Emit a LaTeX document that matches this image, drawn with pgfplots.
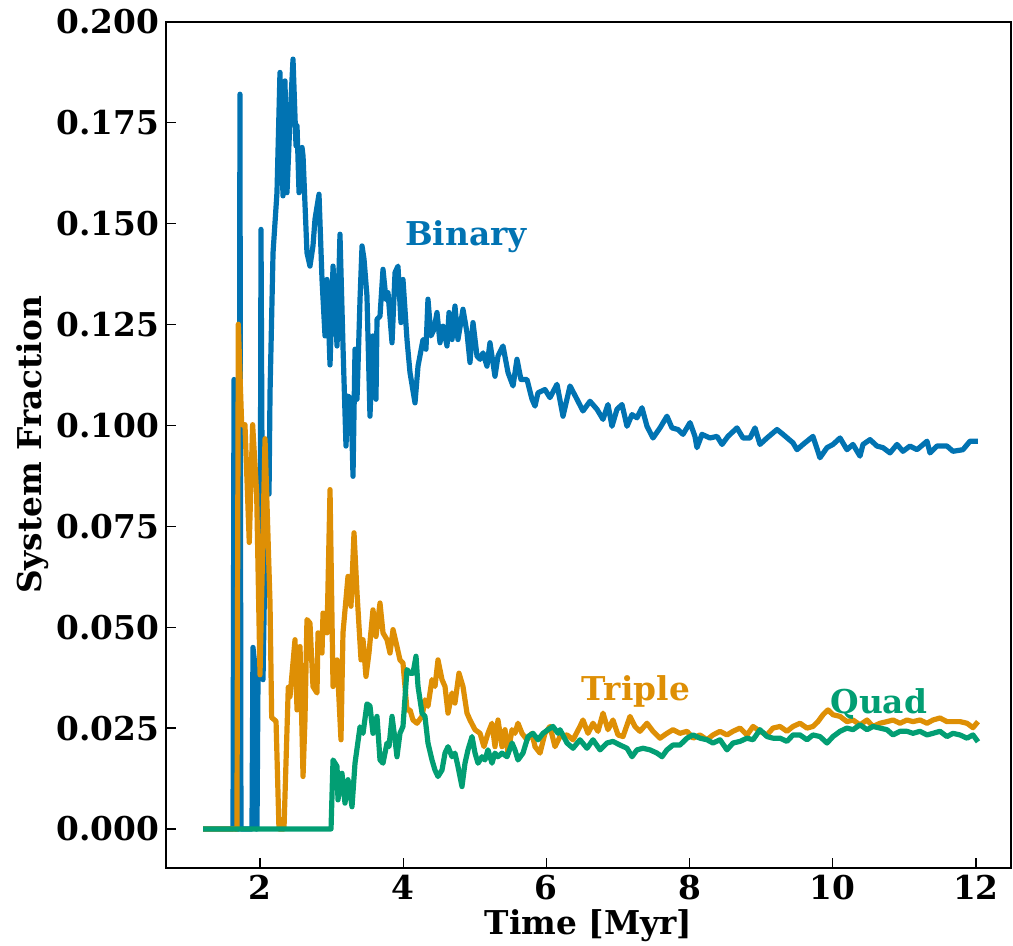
\documentclass[border=0pt]{standalone}
\usepackage{fontspec}
\setmainfont{DejaVu Serif}
\usepackage{pgfplots}
\pgfplotsset{compat=1.18}
\definecolor{cbblue}{HTML}{0173B2}
\definecolor{cborange}{HTML}{DE8F05}
\definecolor{cbgreen}{HTML}{029E73}
\newcommand\bigfont{\fontsize{16.4}{19.7}\selectfont\bfseries}
\begin{document}
\begin{tikzpicture}
\begin{axis}[
 scale only axis, width=422.5pt, height=423pt,
 xmin=0.687, xmax=12.489, ymin=-0.00968, ymax=0.2,
 xtick={2,4,6,8,10,12},
 ytick={0,0.025,0.05,0.075,0.1,0.125,0.15,0.175,0.2},
 tick align=inside, xtick pos=bottom, ytick pos=left,
 major tick length=5pt,
 tick style={black, line width=0.6pt},
 axis line style={line width=0.6pt},
 ticklabel style={font=\bigfont},
 /pgf/number format/assume math mode=true,
 yticklabel style={/pgf/number format/.cd, fixed, fixed zerofill, precision=3},
 xlabel={Time [Myr]}, ylabel={System Fraction},
 label style={font=\bigfont},
 every axis y label/.append style={yshift=-3pt},
 every axis x label/.append style={yshift=2pt},
 every axis plot/.append style={line width=2.6pt, line join=round, mark=none},
 clip=true,
]
% Binary
\addplot[cbblue] coordinates {
(1.204,0) (1.623,0) (1.637,0.1114) (1.651,0) (1.706,0) (1.720,0.1821) (1.734,0)
(1.888,0) (1.902,0.045) (1.930,0.0403) (1.944,0) (1.958,0) (1.972,0.037) (2.000,0.040)
(2.014,0.1486) (2.042,0.037) (2.084,0.083) (2.126,0.083) (2.140,0.1081) (2.182,0.1428)
(2.237,0.1577) (2.279,0.1875) (2.321,0.1569) (2.349,0.1854) (2.377,0.1577) (2.419,0.1759)
(2.461,0.1908) (2.503,0.1693) (2.517,0.1743) (2.545,0.1577) (2.587,0.1689) (2.601,0.1668)
(2.656,0.1428) (2.698,0.1395) (2.740,0.1445) (2.768,0.1511) (2.824,0.1573) (2.866,0.1362)
(2.908,0.1222) (2.936,0.1362) (2.978,0.115) (3.020,0.1395) (3.076,0.1197) (3.117,0.1474)
(3.159,0.1197) (3.201,0.0949) (3.229,0.1073) (3.271,0.1065) (3.299,0.0874) (3.327,0.1189)
(3.355,0.1065) (3.397,0.1313) (3.425,0.1445) (3.453,0.1412) (3.494,0.1321) (3.536,0.1023)
(3.578,0.1222) (3.620,0.1065) (3.634,0.1263) (3.676,0.1271) (3.718,0.1387) (3.760,0.1313)
(3.788,0.1329) (3.844,0.1205) (3.886,0.1379) (3.927,0.1395) (3.969,0.1255) (3.997,0.1362)
(4.053,0.1213) (4.095,0.1131) (4.165,0.1056) (4.207,0.1147) (4.277,0.1213) (4.318,0.1189)
(4.346,0.1313) (4.388,0.1222) (4.430,0.1238) (4.472,0.1280) (4.514,0.1205) (4.556,0.1246)
(4.612,0.1197) (4.640,0.1280) (4.682,0.1213) (4.723,0.1296) (4.765,0.1213) (4.835,0.1288)
(4.891,0.1230) (4.933,0.1156) (4.975,0.1255) (5.031,0.1172) (5.073,0.1164) (5.115,0.1180)
(5.170,0.1147) (5.212,0.1205) (5.282,0.1122) (5.324,0.1172) (5.394,0.1197) (5.464,0.1131)
(5.534,0.1098) (5.589,0.1164) (5.645,0.1114) (5.729,0.1114) (5.799,0.1065) (5.841,0.1048)
(5.883,0.1081) (5.980,0.1089) (6.050,0.1069) (6.148,0.1102) (6.232,0.1023) (6.330,0.1098)
(6.427,0.1065) (6.511,0.1036) (6.609,0.1060) (6.707,0.1040) (6.791,0.1015) (6.860,0.1052)
(6.916,0.0998) (6.986,0.1040) (7.056,0.1052) (7.126,0.0998) (7.196,0.1027) (7.265,0.1019)
(7.335,0.1044) (7.405,0.0998) (7.489,0.0969) (7.587,0.0994) (7.684,0.1023) (7.754,0.0994)
(7.838,0.0990) (7.908,0.0978) (8.006,0.1007) (8.075,0.0973) (8.103,0.0945) (8.173,0.0978)
(8.285,0.0969) (8.383,0.0973) (8.453,0.0953) (8.536,0.0973) (8.662,0.0994) (8.746,0.0969)
(8.844,0.0969) (8.914,0.0994) (8.983,0.0953) (9.081,0.0969) (9.221,0.0990) (9.305,0.0978)
(9.444,0.0957) (9.500,0.0940) (9.584,0.0953) (9.723,0.0973) (9.821,0.0920) (9.919,0.0945)
(10.003,0.0953) (10.101,0.0969) (10.198,0.0940) (10.282,0.0953) (10.380,0.0924) (10.422,0.0953)
(10.520,0.0965) (10.617,0.0949) (10.701,0.0945) (10.799,0.0932) (10.897,0.0953) (10.980,0.0936)
(11.078,0.0949) (11.176,0.0940) (11.316,0.0961) (11.358,0.0932) (11.455,0.0949) (11.595,0.0949)
(11.679,0.0936) (11.818,0.0940) (11.916,0.0961) (12.028,0.0961)
};
% Triple
\addplot[cborange] coordinates {
(1.204,0) (1.678,0) (1.697,0.1251) (1.744,0.1002) (1.790,0.1002) (1.850,0.0710) (1.897,0.1002)
(1.953,0.0834) (2.000,0.0382) (2.070,0.0967) (2.140,0.0559) (2.163,0.0276) (2.224,0.0267)
(2.265,0) (2.335,0) (2.395,0.0351) (2.419,0.0328) (2.489,0.0469) (2.517,0.0295) (2.559,0.0452)
(2.601,0.0130) (2.628,0.0270) (2.656,0.0519) (2.698,0.0510) (2.740,0.0353) (2.796,0.0337)
(2.810,0.0486) (2.866,0.0436) (2.880,0.0535) (2.936,0.0486) (2.978,0.0841) (3.020,0.0353)
(3.076,0.0419) (3.131,0.0221) (3.159,0.0486) (3.229,0.0626) (3.271,0.0552) (3.313,0.0734)
(3.355,0.0585) (3.411,0.0419) (3.439,0.0469) (3.480,0.0378) (3.522,0.0436) (3.578,0.0543)
(3.620,0.0477) (3.676,0.0560) (3.718,0.0486) (3.774,0.0469) (3.816,0.0436) (3.858,0.0494)
(3.913,0.0452) (3.955,0.0419) (3.997,0.0411) (4.053,0.0295) (4.095,0.0295) (4.137,0.0270)
(4.193,0.0262) (4.263,0.0279) (4.304,0.0320) (4.346,0.0304) (4.402,0.0370) (4.444,0.0353)
(4.486,0.0419) (4.542,0.0370) (4.584,0.0353) (4.626,0.0287) (4.682,0.0337) (4.723,0.0312)
(4.779,0.0386) (4.835,0.0353) (4.891,0.0287) (4.933,0.0270) (5.003,0.0246) (5.073,0.0237)
(5.128,0.0204) (5.184,0.0237) (5.240,0.0262) (5.282,0.0204) (5.324,0.0270) (5.380,0.0204)
(5.422,0.0246) (5.464,0.0188) (5.520,0.0246) (5.561,0.0237) (5.603,0.0262) (5.659,0.0237)
(5.729,0.0221) (5.799,0.0237) (5.841,0.0204) (5.911,0.0188) (5.980,0.0237) (6.050,0.0254)
(6.120,0.0204) (6.190,0.0229) (6.288,0.0233) (6.372,0.0221) (6.469,0.0254) (6.511,0.0270)
(6.581,0.0237) (6.651,0.0262) (6.721,0.0242) (6.791,0.0287) (6.860,0.0246) (6.930,0.0270)
(7.000,0.0233) (7.070,0.0229) (7.168,0.0279) (7.237,0.0254) (7.307,0.0242) (7.405,0.0262)
(7.489,0.0242) (7.587,0.0225) (7.684,0.0237) (7.768,0.0246) (7.866,0.0237) (7.964,0.0242)
(8.048,0.0225) (8.145,0.0233) (8.243,0.0221) (8.327,0.0233) (8.425,0.0242) (8.522,0.0233)
(8.606,0.0242) (8.704,0.0250) (8.802,0.0233) (8.886,0.0254) (8.983,0.0242) (9.081,0.0233)
(9.165,0.0250) (9.263,0.0254) (9.360,0.0242) (9.444,0.0254) (9.542,0.0262) (9.640,0.0250)
(9.723,0.0254) (9.793,0.0266) (9.863,0.0283) (9.933,0.0295) (10.003,0.0283) (10.101,0.0279)
(10.198,0.0266) (10.282,0.0270) (10.380,0.0258) (10.478,0.0270) (10.562,0.0254) (10.659,0.0262)
(10.757,0.0266) (10.841,0.0270) (10.939,0.0262) (11.036,0.0270) (11.120,0.0266) (11.218,0.0270)
(11.316,0.0262) (11.399,0.0270) (11.497,0.0275) (11.595,0.0266) (11.679,0.0266) (11.777,0.0266)
(11.874,0.0262) (11.958,0.0251) (12.028,0.0266)
};
% Quad
\addplot[cbgreen] coordinates {
(1.204,0) (2.992,0) (3.020,0.0171) (3.076,0.0155) (3.089,0.0072) (3.145,0.0138) (3.187,0.0064)
(3.229,0.0122) (3.285,0.0055) (3.327,0.0163) (3.397,0.0253) (3.439,0.0237) (3.494,0.0310)
(3.536,0.0305) (3.578,0.0237) (3.634,0.0279) (3.676,0.0171) (3.718,0.0163) (3.774,0.0213)
(3.802,0.0204) (3.844,0.0279) (3.886,0.0221) (3.913,0.0179) (3.955,0.0237) (3.997,0.0254)
(4.053,0.0395) (4.095,0.0386) (4.137,0.0386) (4.179,0.0428) (4.207,0.0353) (4.263,0.0287)
(4.304,0.0279) (4.346,0.0213) (4.402,0.0171) (4.444,0.0146) (4.486,0.0130) (4.542,0.0146)
(4.584,0.0188) (4.626,0.0204) (4.682,0.0179) (4.723,0.0188) (4.765,0.0155) (4.821,0.0105)
(4.863,0.0163) (4.905,0.0196) (4.961,0.0229) (5.003,0.0188) (5.045,0.0163) (5.101,0.0179)
(5.142,0.0171) (5.184,0.0196) (5.240,0.0163) (5.282,0.0188) (5.324,0.0179) (5.380,0.0188)
(5.450,0.0179) (5.520,0.0213) (5.561,0.0196) (5.603,0.0171) (5.673,0.0188) (5.743,0.0229)
(5.813,0.0237) (5.883,0.0221) (5.953,0.0237) (6.022,0.0246) (6.092,0.0254) (6.162,0.0237)
(6.190,0.0246) (6.288,0.0213) (6.372,0.0200) (6.469,0.0221) (6.567,0.0200) (6.651,0.0221)
(6.749,0.0196) (6.846,0.0213) (6.930,0.0217) (7.028,0.0208) (7.126,0.0200) (7.196,0.0179)
(7.265,0.0196) (7.349,0.0200) (7.447,0.0196) (7.545,0.0188) (7.615,0.0179) (7.684,0.0196)
(7.768,0.0208) (7.866,0.0208) (7.964,0.0225) (8.048,0.0233) (8.145,0.0225) (8.243,0.0221)
(8.327,0.0213) (8.425,0.0221) (8.522,0.0196) (8.606,0.0213) (8.704,0.0217) (8.802,0.0225)
(8.886,0.0221) (8.983,0.0246) (9.081,0.0229) (9.165,0.0225) (9.263,0.0225) (9.360,0.0217)
(9.444,0.0233) (9.542,0.0233) (9.640,0.0221) (9.723,0.0233) (9.821,0.0229) (9.919,0.0213)
(10.003,0.0229) (10.101,0.0242) (10.198,0.0250) (10.282,0.0246) (10.380,0.0258) (10.478,0.0246)
(10.562,0.0254) (10.659,0.0250) (10.757,0.0246) (10.841,0.0233) (10.939,0.0242) (11.036,0.0242)
(11.120,0.0237) (11.218,0.0242) (11.316,0.0233) (11.399,0.0237) (11.497,0.0242) (11.595,0.0229)
(11.679,0.0237) (11.777,0.0233) (11.874,0.0225) (11.958,0.0233) (12.028,0.0216)
};
\node[text=cbblue, font=\bigfont] at (axis cs:4.877,0.1467) {Binary};
\node[text=cborange, font=\bigfont] at (axis cs:7.251,0.0342) {Triple};
\node[text=cbgreen, font=\bigfont] at (axis cs:10.643,0.0310) {Quad};
\end{axis}
\pgfresetboundingbox
\path ([shift={(-83pt,-38.5pt)}]current axis.south west) rectangle ([shift={(1pt,11pt)}]current axis.north east);
\end{tikzpicture}
\end{document}
